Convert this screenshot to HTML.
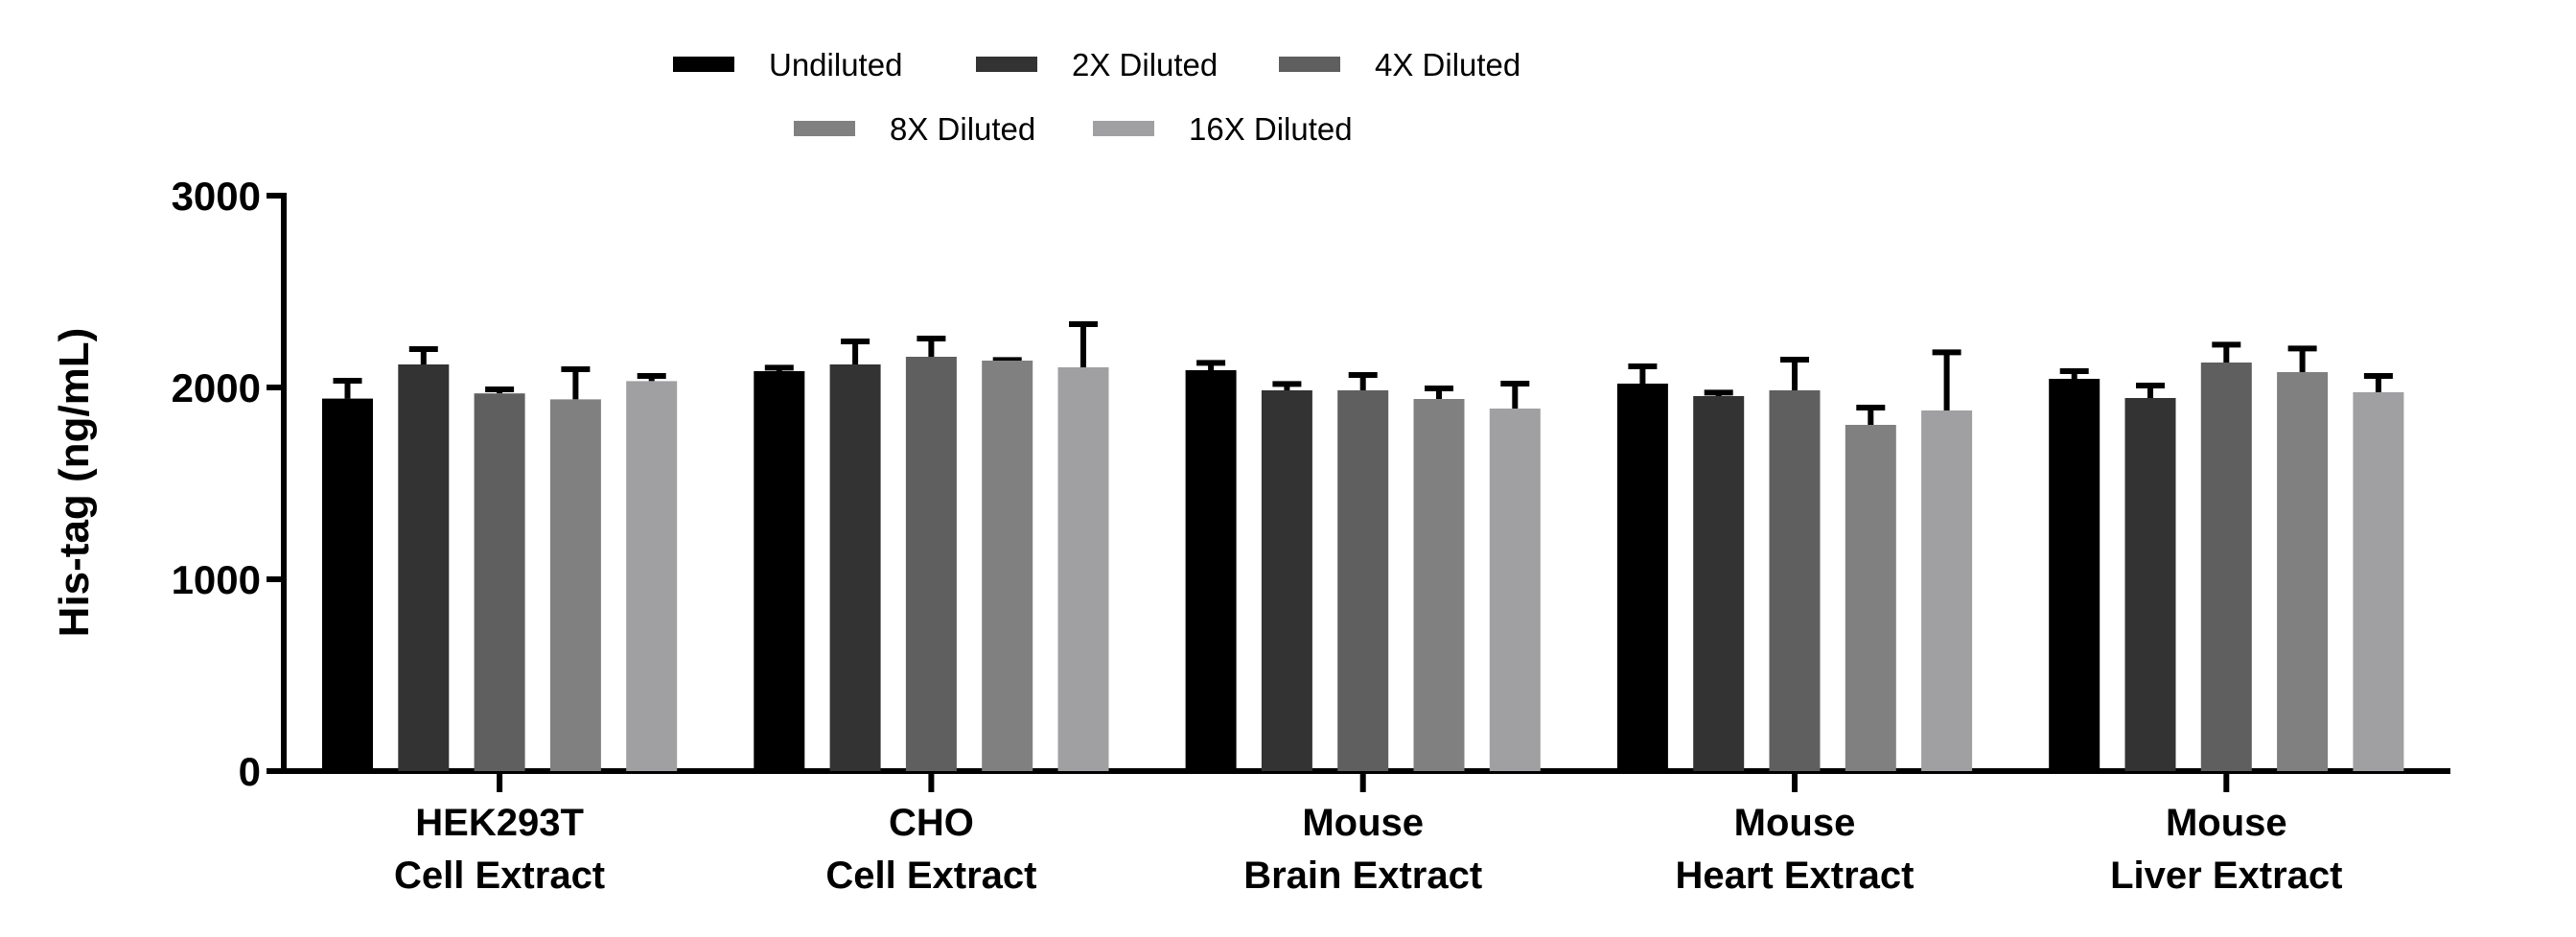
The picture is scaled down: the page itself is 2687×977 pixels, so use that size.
<!DOCTYPE html>
<html><head><meta charset="utf-8">
<style>
html,body{margin:0;padding:0;background:#fff;}
svg{display:block;font-family:"Liberation Sans",sans-serif;}
</style></head>
<body>
<svg id="chart" width="2687" height="977" viewBox="0 0 2687 977" xmlns="http://www.w3.org/2000/svg">
<g id="legend"></g>
<g id="axes"></g>
<g id="bars"></g>
<text transform="translate(92,503) rotate(-90)" text-anchor="middle" font-size="44" font-weight="bold">His-tag (ng/mL)</text>
</svg>
<script>
const categories = [["HEK293T","Cell Extract"],["CHO","Cell Extract"],["Mouse","Brain Extract"],["Mouse","Heart Extract"],["Mouse","Liver Extract"]];
const seriesNames = ["Undiluted","2X Diluted","4X Diluted","8X Diluted","16X Diluted"];
const seriesColors = ["#000000","#333333","#5f5f5f","#808080","#a0a0a3"];
const undiluted = [1942, 2085, 2090, 2020, 2045];
const dil2x = [2120, 2120, 1985, 1955, 1945];
const dil4x = [1969, 2160, 1985, 1985, 2130];
const dil8x = [1938, 2140, 1940, 1805, 2080];
const dil16x = [2033, 2105, 1890, 1880, 1975];
const err1 = [2035, 2103, 2128, 2110, 2085];
const err2 = [2200, 2240, 2018, 1973, 2010];
const err4 = [1990, 2255, 2065, 2145, 2223];
const err8 = [2095, 2143, 1995, 1895, 2203];
const err16 = [2060, 2330, 2020, 2183, 2060];
const yTicks = [0, 1000, 2000, 3000];
const values = [undiluted, dil2x, dil4x, dil8x, dil16x];
const errTops = [err1, err2, err4, err8, err16];

const NS = "http://www.w3.org/2000/svg";
function mk(tag, attrs, parent){const e=document.createElementNS(NS,tag);for(const k in attrs)e.setAttribute(k,attrs[k]);parent.appendChild(e);return e;}
const y = v => 804 - v * 0.2;
const barX = (g, s) => 336 + g * 450.3 + s * 79.3;
const BW = 53;
const axes = document.getElementById('axes');
const bars = document.getElementById('bars');
const legend = document.getElementById('legend');

// y axis
let yl = mk('line',{x1:296,y1:201,x2:296,y2:807,stroke:'#000','stroke-width':6},axes);


let xl = mk('line',{x1:293,y1:804,x2:2556,y2:804,stroke:'#000','stroke-width':6},axes);


yTicks.forEach(t=>{
  const tk = mk('line',{x1:278,y1:y(t),x2:296,y2:y(t),stroke:'#000','stroke-width':6},axes);
  
  
  const tl = mk('text',{x:272,y:y(t)+15,'text-anchor':'end','font-size':42,'font-weight':'bold'},axes);
  tl.textContent = t;
  
  
});
categories.forEach((c,g)=>{
  const cx = barX(g,2) + BW/2;
  const tk = mk('line',{x1:cx,y1:804,x2:cx,y2:826,stroke:'#000','stroke-width':6},axes);
  
  
  const t = mk('text',{x:cx,y:871,'text-anchor':'middle','font-size':40,'font-weight':'bold'},axes);
  
  
  const s1 = mk('tspan',{x:cx,dy:0},t); s1.textContent=c[0];
  const s2 = mk('tspan',{x:cx,dy:55},t); s2.textContent=c[1];
});
values.forEach((ser,s)=>{
  ser.forEach((v,g)=>{
    const x = barX(g,s);
    const cx = x + BW/2;
    const et = errTops[s][g];
    const el = mk('line',{x1:cx,y1:y(v),x2:cx,y2:y(et),stroke:'#000','stroke-width':6},bars);
    
    
    const cap = mk('line',{x1:cx-15,y1:y(et),x2:cx+15,y2:y(et),stroke:'#000','stroke-width':6},bars);
    
    
    const r = mk('rect',{x:x,y:y(v),width:BW,height:804-y(v),fill:seriesColors[s]},bars);
    
    
  });
});
const legPos = [[702,67],[1018,67],[1334,67],[828,134],[1140,134]];
seriesNames.forEach((n,i)=>{
  const [lx,ly] = legPos[i];
  const sw = mk('rect',{x:lx,y:ly-8,width:64,height:16,fill:seriesColors[i]},legend);
  
  
  const t = mk('text',{x:lx+100,y:ly+12,'font-size':33,fill:'#000'},legend);
  t.textContent = n;
  
  
});
</script>
</body></html>
